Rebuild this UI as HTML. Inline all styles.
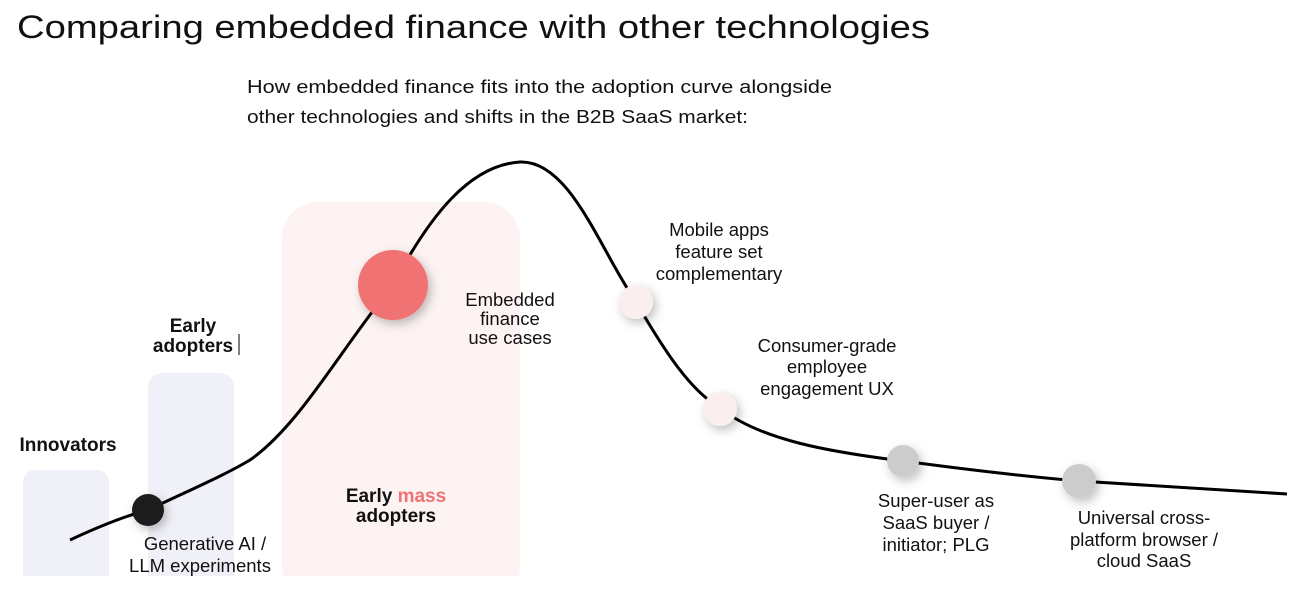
<!DOCTYPE html>
<html><head><meta charset="utf-8"><style>
html,body{margin:0;padding:0;background:#fff;width:1301px;height:596px;overflow:hidden}
svg{display:block;font-family:"Liberation Sans",sans-serif}
</style></head><body>
<svg width="1301" height="596" viewBox="0 0 1301 596" xmlns="http://www.w3.org/2000/svg">
<defs>
<filter id="sh" x="-80%" y="-80%" width="260%" height="260%">
<feDropShadow dx="3" dy="4" stdDeviation="5" flood-color="#000" flood-opacity="0.25"/>
</filter>
</defs>
<text x="17" y="38" font-size="32" fill="#111" textLength="913" lengthAdjust="spacingAndGlyphs">Comparing embedded finance with other technologies</text>
<text x="247" y="93" font-size="18" fill="#111" textLength="585" lengthAdjust="spacingAndGlyphs">How embedded finance fits into the adoption curve  alongside</text>
<text x="247" y="123" font-size="18" fill="#111" textLength="501" lengthAdjust="spacingAndGlyphs">other technologies and shifts in the B2B SaaS market:</text>

<rect x="23" y="470" width="86" height="130" rx="12" fill="#f0f0f8"/>
<rect x="148" y="373" width="86" height="230" rx="14" fill="#f0f0f8"/>
<rect x="282" y="202" width="238" height="400" rx="36" fill="#fdf3f2"/>
<rect x="0" y="576" width="1301" height="20" fill="#fff"/>

<path d="M70,540 C100,526 125,516 148,510 C190,490 225,475 250,460 C300,425 340,350 393,285 C430,215 470,165 520,162 C570,160 600,250 636,302 C665,352 690,390 720,408 C760,440 830,452 903,461 C970,470 1020,476 1079,481 C1150,486 1220,490 1287,494" fill="none" stroke="#000" stroke-width="3"/>

<circle cx="148" cy="510" r="16" fill="#1a1a1a" filter="url(#sh)"/>
<circle cx="393" cy="285" r="35" fill="#f07272" filter="url(#sh)"/>
<circle cx="636" cy="302" r="17" fill="#fbeeee" filter="url(#sh)"/>
<circle cx="720" cy="409" r="17" fill="#fbeeee" filter="url(#sh)"/>
<circle cx="903" cy="461" r="16" fill="#cccccc" filter="url(#sh)"/>
<circle cx="1079" cy="481" r="17" fill="#cccccc" filter="url(#sh)"/>

<g font-size="19" font-weight="bold" fill="#111" text-anchor="middle">
<text x="68" y="451">Innovators</text>
<text x="193" y="332">Early</text>
<text x="193" y="352">adopters</text>
<text x="396" y="502">Early <tspan fill="#f07272">mass</tspan></text>
<text x="396" y="522">adopters</text>
</g>
<line x1="239" y1="334" x2="239" y2="355" stroke="#000" stroke-width="1"/>

<g font-size="18.5" fill="#111" text-anchor="middle">
<text x="205" y="550">Generative AI /</text>
<text x="200" y="572">LLM experiments</text>
<text x="510" y="306">Embedded</text>
<text x="510" y="325">finance</text>
<text x="510" y="344">use cases</text>
<text x="719" y="236">Mobile apps</text>
<text x="719" y="258">feature set</text>
<text x="719" y="280">complementary</text>
<text x="827" y="352">Consumer-grade</text>
<text x="827" y="373">employee</text>
<text x="827" y="395">engagement UX</text>
<text x="936" y="507">Super-user as</text>
<text x="936" y="529">SaaS buyer /</text>
<text x="936" y="551">initiator; PLG</text>
<text x="1144" y="524">Universal cross-</text>
<text x="1144" y="546">platform browser /</text>
<text x="1144" y="567">cloud SaaS</text>
</g>
</svg>
</body></html>
